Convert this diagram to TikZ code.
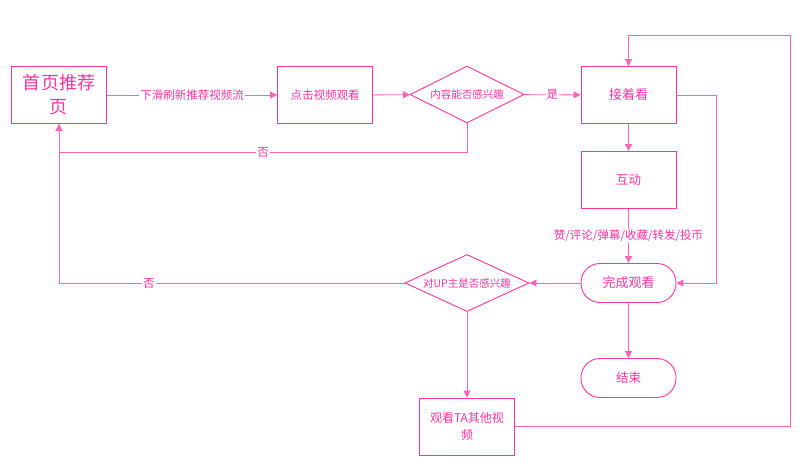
\documentclass[tikz,border=0pt]{standalone}
\usepackage{fontspec}
\newfontfamily\cjk{Noto Sans CJK SC}
\usetikzlibrary{shapes.geometric,arrows.meta}
\definecolor{flowpink}{RGB}{255,51,160}
\definecolor{linepink}{RGB}{255,100,180}
\begin{document}
\begin{tikzpicture}[x=1pt,y=-1pt,font=\cjk\fontsize{11.5}{14}\selectfont]
      \tikzstyle{every node}=[text=flowpink]
      \tikzstyle{box}=[draw=flowpink, line width=0.9pt, minimum width=95pt, minimum height=57pt, align=center, inner sep=2pt]
      \tikzstyle{term}=[draw=flowpink, line width=0.9pt, rounded corners=19pt, minimum width=95pt, minimum height=39pt]
      \tikzstyle{choice}=[draw=flowpink, line width=0.9pt, diamond, aspect=2, inner sep=0pt, font=\cjk\fontsize{10.5}{13}\selectfont]
      \tikzstyle{flow}=[draw=linepink, line width=0.9pt, -{Triangle[length=7pt,width=7pt]}]
      \tikzstyle{lbl}=[fill=white, inner sep=1pt]
      \useasboundingbox (0,0) rectangle (808,467);

      \path (59,95) node[box, font=\cjk\fontsize{18}{24}\selectfont] (home) {首页推荐\\页};
      \path (325,95) node[box] (click) {点击视频观看};
      \path (467,94.5) node[choice, minimum width=114pt, minimum height=57pt] (like) {内容能否感兴趣};
      \path (628.5,95) node[box, font=\cjk\fontsize{13}{16}\selectfont] (cont) {接着看};
      \path (628.5,180) node[box, font=\cjk\fontsize{12.5}{15}\selectfont] (inter) {互动};
      \path (628.5,283) node[term, font=\cjk\fontsize{13}{16}\selectfont] (done) {完成观看};
      \path (628.5,378) node[term, font=\cjk\fontsize{12.5}{15}\selectfont] (end) {结束};
      \path (467,283) node[choice, minimum width=124pt, minimum height=57pt] (up) {对UP主是否感兴趣};
      \path (467,426.5) node[box, font=\cjk\fontsize{12}{17}\selectfont] (other) {观看TA其他视\\频};

      \coordinate (loopR) at (790,35);
      \coordinate (sideR) at (716,95);

      \draw[flow] (home) -- node[lbl] {下滑刷新推荐视频流} (click);
      \draw[flow] (click) -- (like);
      \draw[flow] (like) -- node[lbl] {是} (cont);
      \draw[flow] (like.south) |- node[lbl, pos=0.75] {否} (59,152) -- (home.south);
      \draw[flow] (cont) -- (inter);
      \draw[flow] (inter) -- node[lbl] {赞/评论/弹幕/收藏/转发/投币} (done);
      \draw[flow] (cont.east) -- (sideR) |- (done.east);
      \draw[flow] (done) -- (up);
      \draw[flow] (up.west) -- node[lbl, pos=0.74] {否} (59,283) -- (home.south);
      \draw[flow] (up) -- (other);
      \draw[flow] (done) -- (end);
      \draw[flow] (other.east) -| (loopR) -| (cont.north);
    \end{tikzpicture}
\end{document}
